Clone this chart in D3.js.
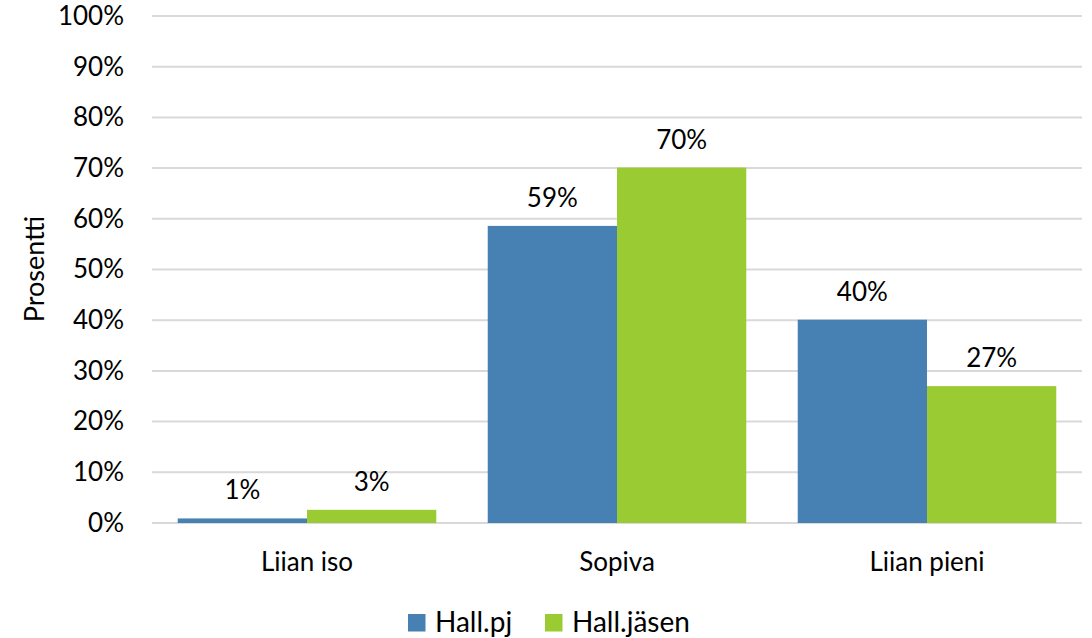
<!DOCTYPE html>
<html>
<head>
<meta charset="utf-8">
<script src="https://cdn.jsdelivr.net/npm/d3@7"></script>
<style>
body { margin: 0; background: #fff; }
text { font-family: Lato, "Open Sans", sans-serif; fill: #000; }
</style>
</head>
<body>
<div id="chart"></div>
<script>
// data
var categories = ["Liian iso", "Sopiva", "Liian pieni"];
var seriesNames = ["Hall.pj", "Hall.jäsen"];
var hallPj = [0.9, 58.6, 40.1];
var hallJasen = [2.6, 70.1, 27.0];
var valueLabels = [["1%", "59%", "40%"], ["3%", "70%", "27%"]];
var yTicks = [0, 10, 20, 30, 40, 50, 60, 70, 80, 90, 100];
var colors = ["#4781b4", "#9bcb33"];

var width = 1092, height = 638;
var plotL = 152, plotR = 1082, plotT = 16, plotB = 523;

var svg = d3.select("#chart").append("svg")
	.attr("width", width)
	.attr("height", height);

var y = d3.scaleLinear().domain([0, 100]).range([plotB, plotT]);
var x = d3.scaleBand().domain(categories).range([plotL, plotR])
	.paddingInner(0.166).paddingOuter(0.083);
var x1 = d3.scaleBand().domain(seriesNames).range([0, x.bandwidth()]);

// gridlines
svg.append("g").selectAll("line").data(yTicks)
	.enter().append("line")
	.attr("x1", plotL).attr("x2", plotR)
	.attr("y1", function(d) { return y(d); })
	.attr("y2", function(d) { return y(d); })
	.attr("stroke", "#d9d9d9")
	.attr("stroke-width", 2);

// y axis labels
var yAxis = d3.axisLeft(y).tickValues(yTicks).tickSize(0).tickPadding(0)
	.tickFormat(function(d) { return d + "%"; });
var yG = svg.append("g").attr("transform", "translate(124,0)").call(yAxis);
yG.select(".domain").remove();
yG.selectAll("text").attr("font-size", 26).attr("font-family", "Lato, sans-serif").attr("fill", "#000");

// bars
var series = [hallPj, hallJasen];
series.forEach(function(vals, s) {
	svg.append("g").selectAll("rect").data(vals)
		.enter().append("rect")
		.attr("x", function(d, i) { return x(categories[i]) + x1(seriesNames[s]); })
		.attr("y", function(d) { return y(d); })
		.attr("width", x1.bandwidth())
		.attr("height", function(d) { return plotB - y(d); })
		.attr("fill", colors[s]);
	svg.append("g").selectAll("text").data(vals)
		.enter().append("text")
		.attr("x", function(d, i) { return x(categories[i]) + x1(seriesNames[s]) + x1.bandwidth() / 2; })
		.attr("y", function(d) { return y(d) - 19; })
		.attr("text-anchor", "middle")
		.attr("font-size", 26)
		.text(function(d, i) { return valueLabels[s][i]; });
});

// category labels
svg.append("g").selectAll("text").data(categories)
	.enter().append("text")
	.attr("x", function(d) { return x(d) + x.bandwidth() / 2; })
	.attr("y", 571)
	.attr("text-anchor", "middle")
	.attr("font-size", 26)
	.text(function(d) { return d; });

// y title
svg.append("text")
	.attr("transform", "translate(44,269) rotate(-90)")
	.attr("text-anchor", "middle")
	.attr("font-size", 27)
	.text("Prosentti");

// legend
var legendX = [408, 545];
var leg = svg.append("g").selectAll("g").data(seriesNames)
	.enter().append("g")
	.attr("transform", function(d, i) { return "translate(" + legendX[i] + ",614)"; });
leg.append("rect").attr("width", 17.5).attr("height", 17.5)
	.attr("fill", function(d, i) { return colors[i]; });
leg.append("text").attr("x", 27).attr("y", 17.5)
	.attr("font-size", 28)
	.text(function(d) { return d; });
</script>
</body>
</html>
